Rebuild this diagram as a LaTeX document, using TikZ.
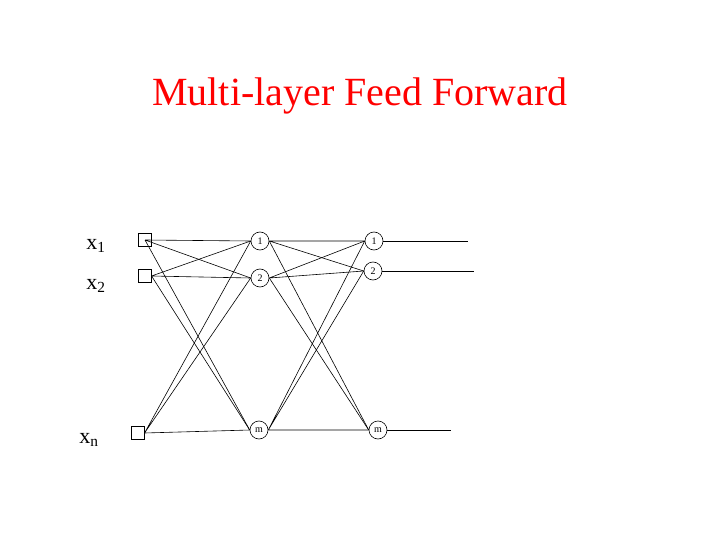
\documentclass[tikz,border=0pt]{standalone}
\usepackage{fontspec}
\setmainfont{Liberation Serif}
\begin{document}
\begin{tikzpicture}[x=1pt,y=-1pt,line width=0.6pt,
 sq/.style={draw,minimum size=12.5pt,inner sep=0pt},
 nd/.style={draw,circle,minimum size=18pt,inner sep=0pt,font=\fontsize{10}{10}\selectfont},
 lbl/.style={font=\fontsize{22}{22}\selectfont}]
\useasboundingbox (0,0) rectangle (720,540);
\node[text=red,font=\fontsize{40}{40}\selectfont] (t) at (360,96) {Multi-layer Feed Forward};
\node[lbl] (l1) at (96,246) {x$_\mathrm{1}$};
\node[lbl] (l2) at (96,286) {x$_\mathrm{2}$};
\node[lbl] (ln) at (89,440) {x$_\mathrm{n}$};
\node[sq] (s1) at (145,240) {};
\node[sq] (s2) at (145,276) {};
\node[sq] (sn) at (138,433) {};
\node[nd] (h1) at (260,241) {1};
\node[nd] (h2) at (260,278) {2};
\node[nd] (hm) at (259,430) {m};
\node[nd] (o1) at (374,241) {1};
\node[nd] (o2) at (373,271) {2};
\node[nd] (om) at (378,430) {m};
\coordinate (e1) at (468,241);
\coordinate (e2) at (474,271);
\coordinate (em) at (451,430);
\draw (s1.center) -- (h1.west) (s1.center) -- (h2.west) (s1.center) -- (hm.west);
\draw (s2.east) -- (h1.west) (s2.east) -- (h2.west) (s2.east) -- (hm.west);
\draw (sn.east) -- (h1.west) (sn.east) -- (h2.west) (sn.east) -- (hm.west);
\draw (h1.east) -- (o1.west) (h1.east) -- (o2.west) (h1.east) -- (om.west);
\draw (h2.east) -- (o1.west) (h2.east) -- (o2.west) (h2.east) -- (om.west);
\draw (hm.east) -- (o1.west) (hm.east) -- (o2.west) (hm.east) -- (om.west);
\draw (o1.east) -- (e1) (o2.east) -- (e2) (om.east) -- (em);
\end{tikzpicture}
\end{document}
